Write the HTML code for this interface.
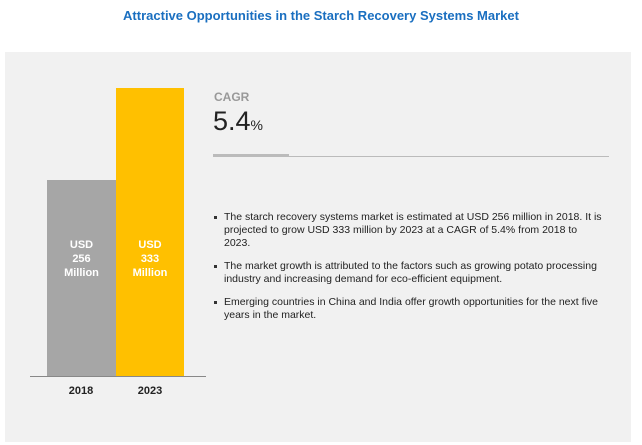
<!DOCTYPE html>
<html><head><style>
body{margin:0;width:642px;height:445px;background:#fff;position:relative;overflow:hidden;font-family:"Liberation Sans",Arial,sans-serif}
.a{position:absolute}
.t{left:0;width:642px;top:8px;text-align:center;color:#1a6fc0;font-weight:bold;font-size:13px}
.panel{left:5px;top:52px;width:626px;height:390px;background:#f1f1f1}
.bl{color:#fff;font-weight:bold;font-size:11px;text-align:center;line-height:14px}
.yr{font-weight:bold;font-size:11px;color:#222;text-align:center;width:68px}
ul{margin:0;padding:0;list-style:none}
li{position:relative;padding-left:10px;font-size:10.5px;line-height:13px;color:#222;margin-bottom:10px;font-variant-ligatures:none}
li:before{content:"";position:absolute;left:0;top:5px;width:3px;height:3px;background:#333}
</style></head><body>
<div class="a t">Attractive Opportunities in the Starch Recovery Systems Market</div>
<div class="a panel"></div>
<div class="a" style="left:47px;top:180px;width:69px;height:196px;background:#a6a6a6"></div>
<div class="a" style="left:116px;top:88px;width:68px;height:288px;background:#ffc000"></div>
<div class="a" style="left:30px;top:376px;width:176px;height:1px;background:#888"></div>
<div class="a bl" style="left:47px;top:238px;width:69px">USD<br>256<br>Million</div>
<div class="a bl" style="left:116px;top:238px;width:68px">USD<br>333<br>Million</div>
<div class="a yr" style="left:47px;top:385px">2018</div>
<div class="a yr" style="left:116px;top:385px">2023</div>
<div class="a" style="left:214px;top:90px;font-size:12px;color:#999;font-weight:bold">CAGR</div>
<div class="a" style="left:213px;top:106px;font-size:27px;color:#222">5.4<span style="font-size:14px">%</span></div>
<div class="a" style="left:213px;top:156px;width:396px;height:1px;background:#bbb"></div>
<div class="a" style="left:213px;top:154px;width:76px;height:3px;background:#bbb"></div>
<ul class="a" style="left:214px;top:211px;width:388px">
<li>The starch recovery systems market is estimated at USD 256 million in 2018. It is projected to grow USD 333 million by 2023 at a CAGR of 5.4% from 2018 to 2023.</li>
<li>The market growth is attributed to the factors such as growing potato processing industry and increasing demand for eco-efficient equipment.</li>
<li>Emerging countries in China and India offer growth opportunities for the next five years in the market.</li>
</ul>
</body></html>
